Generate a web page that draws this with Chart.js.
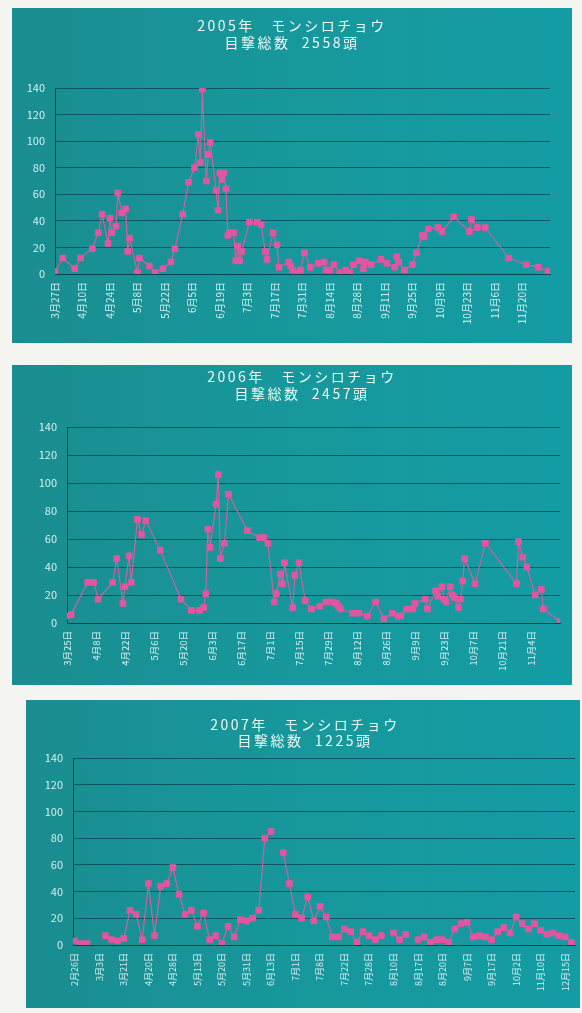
<!DOCTYPE html>
<html lang="ja">
<head>
<meta charset="utf-8">
<title>モンシロチョウ 目撃数 2005–2007</title>
<script src="https://cdn.jsdelivr.net/npm/chart.js@4/dist/chart.umd.min.js"></script>
<style>
  html, body { margin: 0; padding: 0; background: #f4f4f1; }
  body { width: 582px; height: 1013px; position: relative; overflow: hidden; }
  .panel { position: absolute; background: linear-gradient(90deg, #1a8d90 0%, #17979b 45%, #149ca4 100%); }
  canvas { display: block; }
</style>
</head>
<body>
<div class="panel" style="left:12px;top:8px;width:560px;height:335px"><canvas id="c2005" width="560" height="335"></canvas></div>
<div class="panel" style="left:12px;top:365px;width:560px;height:320px"><canvas id="c2006" width="560" height="320"></canvas></div>
<div class="panel" style="left:26px;top:700px;width:554px;height:308px"><canvas id="c2007" width="554" height="308"></canvas></div>
<script>
// ---- 2005: observation dates and counts ----
const ticks2005 = ['3月27日','4月10日','4月24日','5月8日','5月22日','6月5日','6月19日','7月3日','7月17日',
  '7月31日','8月14日','8月28日','9月11日','9月25日','10月9日','10月23日','11月6日','11月20日'];
const dates2005 = ['3/27','3/31','4/6','4/9','4/15','4/18','4/20','4/23','4/24','4/25','4/27','4/28','4/30',
  '5/2','5/3','5/4','5/8','5/9','5/14','5/17','5/21','5/25','5/27','5/31','6/3','6/6','6/8','6/9','6/10',
  '6/12','6/13','6/14','6/17','6/18','6/19','6/20','6/21','6/22','6/23','6/24','6/26','6/27','6/28','6/29',
  '6/30','7/4','7/8','7/10','7/12','7/13','7/16','7/18','7/19','7/24','7/25','7/26','7/28','7/30','8/1',
  '8/4','8/8','8/11','8/12','8/14','8/16','8/19','8/22','8/24','8/26','8/29','8/31','9/1','9/4','9/9',
  '9/12','9/16','9/17','9/18','9/21','9/25','9/27','9/30','10/1','10/3','10/8','10/10','10/16','10/24',
  '10/25','10/28','11/1','11/13','11/22','11/28','12/3'];
const counts2005 = [2,12,4,12,19,31,45,23,42,31,36,61,46,
  49,17,27,1,12,6,1,4,9,19,45,69,80,105,84,139,
  70,90,99,63,48,76,71,76,64,29,31,31,10,21,10,
  17,39,39,37,17,11,31,22,5,9,6,3,1,3,16,
  5,8,9,3,3,7,1,3,1,7,10,4,9,7,11,
  8,5,13,9,3,7,16,29,28,34,35,32,43,32,
  41,35,35,12,7,5,2];

// ---- 2006 ----
const ticks2006 = ['3月25日','4月8日','4月22日','5月6日','5月20日','6月3日','6月17日','7月1日','7月15日',
  '7月29日','8月12日','8月26日','9月9日','9月23日','10月7日','10月21日','11月4日'];
const dates2006 = ['3/25','3/27','4/4','4/7','4/9','4/16','4/18','4/21','4/22','4/24','4/25','4/28','4/30',
  '5/2','5/9','5/19','5/24','5/28','5/30','5/31','6/1','6/2','6/5','6/6','6/7','6/9','6/11','6/20','6/26',
  '6/28','6/30','7/3','7/4','7/6','7/7','7/8','7/12','7/13','7/15','7/18','7/21','7/25','7/28','7/31',
  '8/2','8/3','8/4','8/10','8/13','8/17','8/21','8/25','8/29','9/1','9/2','9/5','9/8','9/9','9/14',
  '9/15','9/19','9/20','9/22','9/23','9/24','9/26','9/27','9/28','9/30','10/1','10/2','10/3','10/8',
  '10/13','10/28','10/29','10/31','11/2','11/6','11/9','11/10','11/18'];
const counts2006 = [5,6,29,29,17,29,46,14,26,48,29,74,63,
  73,52,17,9,9,11,21,67,54,85,106,46,57,92,66,61,
  61,57,15,21,35,28,43,11,34,43,16,10,12,15,15,
  14,12,10,7,7,5,15,3,7,5,5,10,10,14,17,
  10,23,19,26,17,15,26,20,18,11,17,30,46,28,
  57,28,58,47,40,20,24,10,1];

// ---- 2007: one entry per survey day (null = no record) ----
const ticks2007 = ['2月26日','3月3日','3月21日','4月20日','4月28日','5月13日','5月20日','5月31日','6月13日',
  '7月1日','7月8日','7月22日','7月28日','8月10日','8月17日','8月20日','9月7日','9月17日','10月2日',
  '11月10日','12月15日'];
const counts2007 = [3,1,1,null,null,7,4,3,5,26,
  23,4,46,7,44,46,58,38,23,26,
  14,24,4,7,1,14,6,19,18,20,
  26,80,85,null,69,46,23,20,36,18,
  29,21,6,6,12,10,2,10,7,4,
  7,null,9,4,8,null,4,6,2,4,
  4,2,12,16,17,6,7,6,4,10,
  13,9,21,16,12,16,11,8,9,7,
  6,2];

const FONT = '"Noto Sans CJK JP", "Noto Sans", sans-serif';
const TEXT = '#d6eeee';
const TITLE = '#eef7f6';
const GRID = 'rgba(12, 78, 86, 0.85)';
const AXIS = 'rgba(10, 66, 74, 0.95)';
const LINE = '#c7649d';
const MARK = '#e4559f';

function dayOffset(year, start, md) {
  const [m, d] = md.split('/').map(Number);
  const [sm, sd] = start.split('/').map(Number);
  return (Date.UTC(year, m - 1, d) - Date.UTC(year, sm - 1, sd)) / 86400000;
}

// Title letter spacing: wrap the title box's draw so only the title text is spaced.
const spacedTitle = {
  id: 'spacedTitle',
  beforeDraw(chart, args, opts) {
    const tb = chart.titleBlock;
    if (tb && !tb._spaced) {
      const draw = tb.draw.bind(tb);
      tb.draw = function (area) {
        const ctx = chart.ctx;
        ctx.save();
        ctx.letterSpacing = (opts.spacing || 0) + 'px';
        draw(area);
        ctx.restore();
      };
      tb._spaced = true;
    }
  }
};

function makeChart(id, cfg) {
  return new Chart(document.getElementById(id), {
    type: 'line',
    data: {
      datasets: [{
        data: cfg.points,
        borderColor: LINE,
        borderWidth: 1.2,
        pointStyle: 'rect',
        pointRadius: 4,
        pointBackgroundColor: MARK,
        pointBorderColor: MARK,
        pointBorderWidth: 1,
        tension: 0,
        spanGaps: false
      }]
    },
    plugins: [spacedTitle],
    options: {
      responsive: false,
      animation: false,
      events: [],
      layout: { padding: cfg.pad },
      plugins: {
        legend: { display: false },
        tooltip: { enabled: false },
        spacedTitle: { spacing: 2.5 },
        title: {
          display: true,
          text: cfg.title,
          color: TITLE,
          font: { family: FONT, size: 14, weight: 'normal', lineHeight: cfg.titleLH + 'px' },
          padding: cfg.titlePad
        }
      },
      scales: {
        x: {
          type: 'linear',
          min: cfg.xMin,
          max: cfg.xMax,
          grid: { display: false, drawTicks: true, tickLength: 8 },
          border: { display: true, color: AXIS, width: 1 },
          ticks: {
            color: TEXT,
            font: { family: FONT, size: cfg.xFont },
            minRotation: 90,
            maxRotation: 90,
            padding: 0,
            autoSkip: false,
            callback: (value, index) => cfg.tickLabels[index]
          },
          afterBuildTicks: (scale) => {
            scale.ticks = cfg.tickLabels.map((_, k) => ({ value: k * cfg.tickStep }));
          },
          afterFit: (scale) => { scale.height = cfg.xAxisH; }
        },
        y: {
          min: 0,
          max: 140,
          ticks: { stepSize: 20, color: TEXT, font: { family: FONT, size: 11 }, padding: 10 },
          grid: { color: GRID, lineWidth: 1, drawTicks: false },
          border: { display: true, color: AXIS, width: 1 },
          afterFit: (scale) => { scale.width = cfg.yAxisW; }
        },
        // empty right-hand margin box so the plot can end short of the panel edge
        yRight: {
          position: 'right',
          min: 0,
          max: 140,
          grid: { display: false, drawTicks: false },
          border: { display: false },
          ticks: { display: false },
          afterFit: (scale) => { scale.width = cfg.rightW; }
        }
      }
    }
  });
}

makeChart('c2005', {
  points: dates2005.map((d, i) => ({ x: dayOffset(2005, '3/27', d), y: counts2005[i] })),
  title: ['2005年　モンシロチョウ', '目撃総数  2558頭'],
  titleLH: 17.7,
  titlePad: { top: 8.4, bottom: 36.2 },
  pad: { left: 10, right: 10, top: 0, bottom: 0 },
  yAxisW: 33,
  rightW: 12,
  xAxisH: 69,
  xMin: 0,
  xMax: ticks2005.length * 14,
  tickStep: 14,
  tickLabels: ticks2005,
  xFont: 10
});

makeChart('c2006', {
  points: dates2006.map((d, i) => ({ x: dayOffset(2006, '3/25', d), y: counts2006[i] })),
  title: ['2006年　モンシロチョウ', '目撃総数  2457頭'],
  titleLH: 16.6,
  titlePad: { top: 3.4, bottom: 25.4 },
  pad: { left: 20, right: 0, top: 0, bottom: 0 },
  yAxisW: 35,
  rightW: 12,
  xAxisH: 62,
  xMin: 0,
  xMax: ticks2006.length * 14,
  tickStep: 14,
  tickLabels: ticks2006,
  xFont: 9.5
});

makeChart('c2007', {
  points: counts2007.map((v, i) => ({ x: i, y: v })),
  title: ['2007年　モンシロチョウ', '目撃総数  1225頭'],
  titleLH: 16.3,
  titlePad: { top: 16.2, bottom: 9.2 },
  pad: { left: 4, right: 0, top: 0, bottom: 0 },
  yAxisW: 43,
  rightW: 5,
  xAxisH: 63,
  xMin: -0.3,
  xMax: 81.6,
  tickStep: 4,
  tickLabels: ticks2007,
  xFont: 9
});
</script>
</body>
</html>
